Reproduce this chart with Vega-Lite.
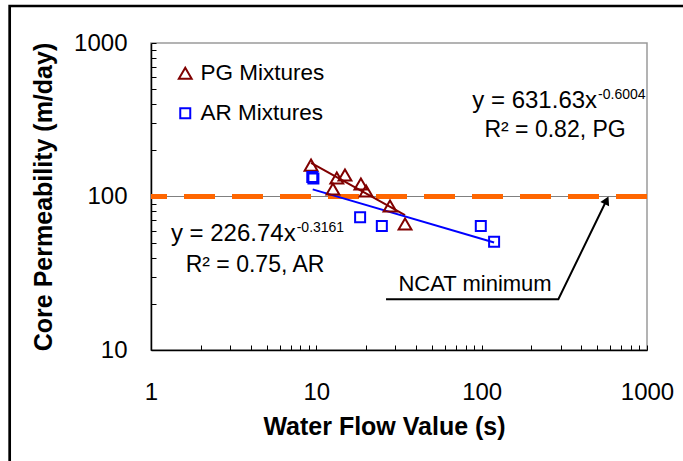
{
  "$schema": "https://vega.github.io/schema/vega-lite/v6.json",
  "width": 496,
  "height": 307,
  "autosize": {"type": "none"},
  "padding": {"left": 151, "top": 43, "right": 36, "bottom": 111},
  "background": "white",
  "config": {
    "font": "Liberation Sans",
    "view": {"stroke": "#9a9a9a", "strokeWidth": 1.5},
    "axis": {
      "grid": false,
      "domainColor": "black",
      "domainWidth": 1.5,
      "tickColor": "black",
      "tickWidth": 1,
      "tickSize": -5,
      "labelFontSize": 24,
      "labelColor": "black",
      "labelFont": "Liberation Sans",
      "titleFont": "Liberation Sans",
      "titleFontSize": 25,
      "titleFontWeight": "bold",
      "titleColor": "black"
    }
  },
  "layer": [
    {
      "data": {"values": [{}]},
      "mark": {"type": "rect", "filled": false, "stroke": "black", "strokeWidth": 2.7},
      "encoding": {
        "x": {"datum": 0.1397, "type": "quantitative", "scale": {"type": "log", "domain": [1, 1000], "nice": false}},
        "x2": {"datum": 10000},
        "y": {"datum": 1742, "type": "quantitative", "scale": {"type": "log", "domain": [10, 1000], "nice": false}},
        "y2": {"datum": 1}
      }
    },
    {
      "data": {"values": [{}]},
      "mark": {"type": "rule", "color": "#808080", "strokeWidth": 1},
      "encoding": {
        "y": {"datum": 100, "type": "quantitative", "scale": {"type": "log", "domain": [10, 1000], "nice": false}}
      }
    },
    {
      "data": {"values": [{}]},
      "mark": {"type": "rule", "color": "#ff6600", "strokeWidth": 5, "strokeDash": [31, 17]},
      "encoding": {
        "y": {"datum": 100, "type": "quantitative", "scale": {"type": "log", "domain": [10, 1000], "nice": false}}
      }
    },
    {
      "data": {"values": [{"x": 9.29, "y": 165.7}, {"x": 34.4, "y": 75.5}]},
      "mark": {"type": "line", "color": "#800000", "strokeWidth": 2},
      "encoding": {
        "x": {"field": "x", "type": "quantitative", "scale": {"type": "log", "domain": [1, 1000], "nice": false}},
        "y": {"field": "y", "type": "quantitative", "scale": {"type": "log", "domain": [10, 1000], "nice": false}}
      }
    },
    {
      "data": {"values": [{"x": 9.51, "y": 111.3}, {"x": 118.9, "y": 50.1}]},
      "mark": {"type": "line", "color": "#0000ff", "strokeWidth": 2},
      "encoding": {
        "x": {"field": "x", "type": "quantitative", "scale": {"type": "log", "domain": [1, 1000], "nice": false}},
        "y": {"field": "y", "type": "quantitative", "scale": {"type": "log", "domain": [10, 1000], "nice": false}}
      }
    },
    {
      "data": {"values": [
        {"series": "PG Mixtures", "x": 9.29, "y": 160},
        {"series": "PG Mixtures", "x": 13.3, "y": 132},
        {"series": "PG Mixtures", "x": 14.9, "y": 138},
        {"series": "PG Mixtures", "x": 12.6, "y": 112},
        {"series": "PG Mixtures", "x": 18.6, "y": 120.6},
        {"series": "PG Mixtures", "x": 20.0, "y": 108.6},
        {"series": "PG Mixtures", "x": 27.9, "y": 86.7},
        {"series": "PG Mixtures", "x": 34.4, "y": 66.2},
        {"series": "AR Mixtures", "x": 9.45, "y": 134},
        {"series": "AR Mixtures", "x": 9.6, "y": 131},
        {"series": "AR Mixtures", "x": 18.4, "y": 73.2},
        {"series": "AR Mixtures", "x": 24.9, "y": 64.3},
        {"series": "AR Mixtures", "x": 98.8, "y": 64.3},
        {"series": "AR Mixtures", "x": 118.9, "y": 50.8}
      ]},
      "mark": {"type": "point", "filled": false, "strokeWidth": 2, "opacity": 1},
      "encoding": {
        "x": {
          "field": "x", "type": "quantitative",
          "scale": {"type": "log", "domain": [1, 1000], "nice": false},
          "axis": {
            "title": "Water Flow Value (s)",
            "values": [1, 2, 3, 4, 5, 6, 7, 8, 9, 10, 20, 30, 40, 50, 60, 70, 80, 90, 100, 200, 300, 400, 500, 600, 700, 800, 900, 1000],
            "labelExpr": "(datum.value == 1 || datum.value == 10 || datum.value == 100 || datum.value == 1000) ? format(datum.value, 'd') : ''",
            "labelPadding": 35,
            "titlePadding": 10,
            "titleX": 233,
            "labelFlush": false,
            "labelOverlap": false
          }
        },
        "y": {
          "field": "y", "type": "quantitative",
          "scale": {"type": "log", "domain": [10, 1000], "nice": false},
          "axis": {
            "title": "Core Permeability (m/day)",
            "values": [10, 20, 30, 40, 50, 60, 70, 80, 90, 100, 200, 300, 400, 500, 600, 700, 800, 900, 1000],
            "labelExpr": "(datum.value == 10 || datum.value == 100 || datum.value == 1000) ? format(datum.value, 'd') : ''",
            "labelPadding": 29,
            "titlePadding": 17,
            "labelFlush": false,
            "labelOverlap": false
          }
        },
        "color": {
          "field": "series", "type": "nominal",
          "scale": {"domain": ["PG Mixtures", "AR Mixtures"], "range": ["#800000", "#0000ff"]},
          "legend": {
            "title": null,
            "orient": "none",
            "legendX": 23,
            "legendY": 19,
            "padding": 0,
            "rowPadding": 17,
            "labelOffset": 4,
            "labelFontSize": 22.5,
            "labelColor": "black",
            "labelFont": "Liberation Sans",
            "symbolStrokeWidth": 2
          }
        },
        "shape": {
          "field": "series", "type": "nominal",
          "scale": {"domain": ["PG Mixtures", "AR Mixtures"], "range": ["triangle-up", "square"]}
        },
        "size": {
          "field": "series", "type": "nominal",
          "scale": {"domain": ["PG Mixtures", "AR Mixtures"], "range": [165, 100]}
        }
      }
    },
    {
      "data": {"values": [{"x": 26.4, "y": 21.4}, {"x": 291, "y": 21.4}, {"x": 569, "y": 94.5}]},
      "mark": {"type": "line", "color": "black", "strokeWidth": 2},
      "encoding": {
        "x": {"field": "x", "type": "quantitative", "scale": {"type": "log", "domain": [1, 1000], "nice": false}},
        "y": {"field": "y", "type": "quantitative", "scale": {"type": "log", "domain": [10, 1000], "nice": false}}
      }
    },
    {
      "data": {"values": [{"x": 569.6, "y": 94.5}]},
      "mark": {"type": "point", "shape": "triangle-up", "filled": true, "color": "black", "size": 95, "angle": 26, "opacity": 1},
      "encoding": {
        "x": {"field": "x", "type": "quantitative", "scale": {"type": "log", "domain": [1, 1000], "nice": false}},
        "y": {"field": "y", "type": "quantitative", "scale": {"type": "log", "domain": [10, 1000], "nice": false}}
      }
    },
    {
      "data": {"values": [{"x": 499, "y": 377, "t": "y = 631.63x"}, {"x": 7.5, "y": 51.3, "t": "y = 226.74x"}]},
      "mark": {"type": "text", "align": "right", "baseline": "alphabetic", "fontSize": 24, "color": "black"},
      "encoding": {
        "x": {"field": "x", "type": "quantitative", "scale": {"type": "log", "domain": [1, 1000], "nice": false}},
        "y": {"field": "y", "type": "quantitative", "scale": {"type": "log", "domain": [10, 1000], "nice": false}},
        "text": {"field": "t"}
      }
    },
    {
      "data": {"values": [{"x": 499, "y": 377, "t": "-0.6004"}, {"x": 7.5, "y": 51.3, "t": "-0.3161"}]},
      "mark": {"type": "text", "align": "left", "baseline": "alphabetic", "fontSize": 14, "dx": 1, "dy": -9, "color": "black"},
      "encoding": {
        "x": {"field": "x", "type": "quantitative", "scale": {"type": "log", "domain": [1, 1000], "nice": false}},
        "y": {"field": "y", "type": "quantitative", "scale": {"type": "log", "domain": [10, 1000], "nice": false}},
        "text": {"field": "t"}
      }
    },
    {
      "data": {"values": [{"x": 278, "y": 245, "t": "R² = 0.82, PG"}, {"x": 4.26, "y": 32.4, "t": "R² = 0.75, AR"}]},
      "mark": {"type": "text", "align": "center", "baseline": "alphabetic", "fontSize": 23, "color": "black"},
      "encoding": {
        "x": {"field": "x", "type": "quantitative", "scale": {"type": "log", "domain": [1, 1000], "nice": false}},
        "y": {"field": "y", "type": "quantitative", "scale": {"type": "log", "domain": [10, 1000], "nice": false}},
        "text": {"field": "t"}
      }
    },
    {
      "data": {"values": [{"x": 91.2, "y": 26.9, "t": "NCAT minimum"}]},
      "mark": {"type": "text", "align": "center", "baseline": "middle", "fontSize": 22, "color": "black"},
      "encoding": {
        "x": {"field": "x", "type": "quantitative", "scale": {"type": "log", "domain": [1, 1000], "nice": false}},
        "y": {"field": "y", "type": "quantitative", "scale": {"type": "log", "domain": [10, 1000], "nice": false}},
        "text": {"field": "t"}
      }
    }
  ]
}
